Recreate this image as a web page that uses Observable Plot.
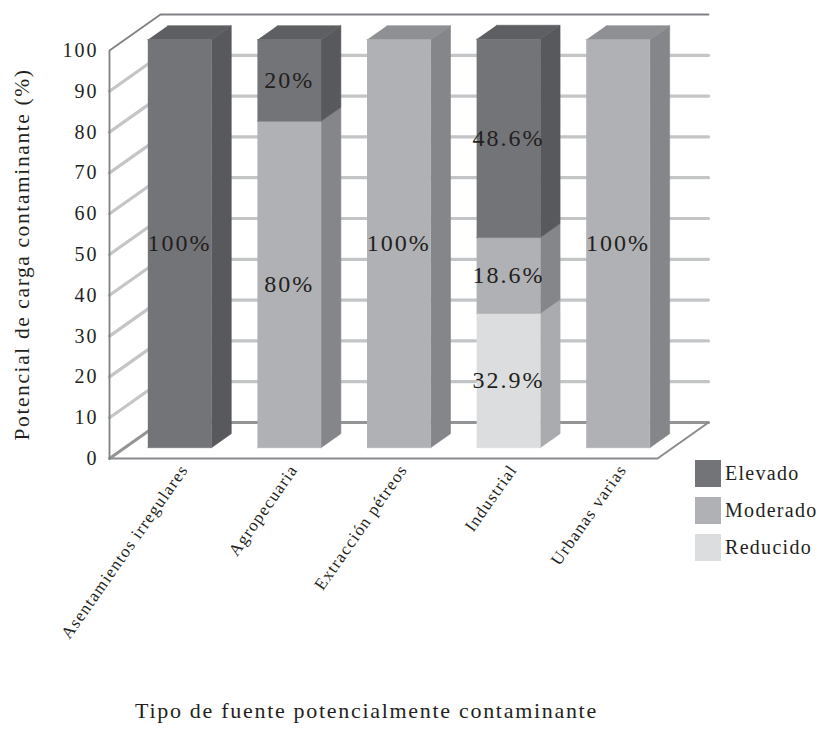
<!DOCTYPE html>
<html><head><meta charset="utf-8">
<script src="https://cdn.jsdelivr.net/npm/d3@7"></script>
<script src="https://cdn.jsdelivr.net/npm/@observablehq/plot@0.6"></script>
<style>
body{margin:0;background:#fff;font-family:"Liberation Serif",serif;color:#231f20;}
#wrap{position:relative;width:822px;height:730px;}
#wrap svg text{font-family:"Liberation Serif",serif;}
#legend{position:absolute;left:695px;top:460px;font-size:20px;letter-spacing:1.3px;}
#legend .item{display:flex;align-items:center;height:27px;margin-bottom:10px;}
#legend .sw{width:26px;height:27px;margin-right:4px;}
</style></head><body><div id="wrap"></div>
<script>
// ---- data ----
const categories = ["Asentamientos irregulares","Agropecuaria","Extracción pétreos","Industrial","Urbanas varias"];
const stackOrder = ["Reducido","Moderado","Elevado"]; // bottom to top
const reducido = [0, 0, 0, 32.9, 0];
const moderado = [0, 80, 100, 18.6, 100];
const elevado  = [100, 20, 0, 48.6, 0];
const yTicks = [0,10,20,30,40,50,60,70,80,90,100];
const yTitle = "Potencial de carga contaminante (%)";
const xTitle = "Tipo de fuente potencialmente contaminante";

// ---- styles ----
const faceColors = {
  Elevado:  {front:"#737478", side:"#58595c", top:"#5e5f62"},
  Moderado: {front:"#b0b1b4", side:"#858689", top:"#8f9093"},
  Reducido: {front:"#dcdddf", side:"#aaabae", top:"#c4c5c7"}
};
const W = 822, H = 730, ML = 109, MR = 165, MT = 50, MB = 272;
const kx = (W - ML - MR) / categories.length;   // px per category slot
const ky = (H - MT - MB) / 100;                 // px per percent
const DEPTH_DX = 51, DEPTH_DY = 36;             // oblique depth in px
const BAR_W = 0.58, D_FRONT = 0.3, D_BACK = 0.69;
const P = (xu, yu, d) => ({x: xu + d * DEPTH_DX / kx, y: yu + d * DEPTH_DY / ky});

const series = {Reducido: reducido, Moderado: moderado, Elevado: elevado};

// stacked segments
const segments = [];
categories.forEach((cat, i) => {
  let y0 = 0;
  const segs = [];
  stackOrder.forEach(level => {
    const v = series[level][i];
    if (v > 0) { segs.push({i, cat, level, v, y0, y1: y0 + v}); y0 += v; }
  });
  segs.forEach((s, k) => { s.top = k === segs.length - 1; segments.push(s); });
});

const faceRows = {};
function addFace(kind, level, id, pts) {
  const key = kind + "|" + level;
  (faceRows[key] = faceRows[key] || []).push(...pts.map(p => ({id, x: p.x, y: p.y})));
}
segments.forEach((s, n) => {
  const c = s.i + 0.5, l = c - BAR_W / 2, r = c + BAR_W / 2;
  addFace("front", s.level, n, [P(l, s.y0, D_FRONT), P(r, s.y0, D_FRONT), P(r, s.y1, D_FRONT), P(l, s.y1, D_FRONT)]);
  addFace("side", s.level, n, [P(r, s.y0, D_FRONT), P(r, s.y0, D_BACK), P(r, s.y1, D_BACK), P(r, s.y1, D_FRONT)]);
  if (s.top) addFace("top", s.level, n, [P(l, s.y1, D_FRONT), P(r, s.y1, D_FRONT), P(r, s.y1, D_BACK), P(l, s.y1, D_BACK)]);
});

const N = categories.length;
const gridRows = yTicks.filter(v => v > 0 && v < 100).flatMap(v =>
  [P(0, v, 0), P(0, v, 1), P(N, v, 1)].map(p => ({id: v, ...p})));
const floorBack = [P(0, 0, 0), P(0, 0, 1), P(N, 0, 1)];
const floorFront = [P(0, 0, 0), P(N, 0, 0), P(N, 0, 1)];
const frame = [P(0, 0, 0), P(0, 100, 0), P(0, 100, 1), P(N, 100, 1)];

const labelRows = segments.map(s => ({...P(s.i + 0.5, (s.y0 + s.y1) / 2, D_FRONT), text: s.v + "%"}));
const catRows = categories.map((cat, i) => ({...P(i + 0.5, 0, 0), text: cat}));

const faceMarks = [];
["side", "top", "front"].forEach(kind => stackOrder.forEach(level => {
  const rows = faceRows[kind + "|" + level];
  if (rows) {
    const col = faceColors[level][kind];
    faceMarks.push(Plot.line(rows, {x: "x", y: "y", z: "id", fill: col, stroke: col, strokeWidth: 0.6}));
  }
}));

const chart = Plot.plot({
  width: W, height: H,
  marginLeft: ML, marginRight: MR, marginTop: MT, marginBottom: MB,
  style: {fontFamily: "Liberation Serif", color: "#231f20", background: "white"},
  x: {domain: [0, N], axis: null},
  y: {domain: [0, 100]},
  marks: [
    Plot.line(gridRows, {x: "x", y: "y", z: "id", stroke: "#c4c5c7", strokeWidth: 3.2}),
    Plot.line(floorBack, {x: "x", y: "y", stroke: "#939496", strokeWidth: 3}),
    Plot.line(floorFront, {x: "x", y: "y", stroke: "#8a8b8e", strokeWidth: 2}),
    Plot.line(frame, {x: "x", y: "y", stroke: "#808184", strokeWidth: 1.8}),
    ...faceMarks,
    Plot.axisY(yTicks, {tickSize: 0, tickPadding: 11, fontSize: 20, label: null, tickFormat: d => String(d)}),
    Plot.text(labelRows, {x: "x", y: "y", text: "text", fontSize: 24, fill: "#231f20"}),
    Plot.text(catRows, {x: "x", y: "y", text: "text", fontSize: 17, rotate: -55, textAnchor: "end", dx: 20, dy: 8, fill: "#231f20"}),
    Plot.text([yTitle], {frameAnchor: "left", textAnchor: "middle", rotate: -90, dx: -87, fontSize: 21.5, fill: "#231f20"}),
    Plot.text([xTitle], {frameAnchor: "bottom", textAnchor: "middle", dx: -17, dy: 259, fontSize: 22, fill: "#231f20"})
  ]
});
const wrap = document.getElementById("wrap");
wrap.appendChild(chart);

// letter spacing by text size (the reference typeface is wider than Times)
const spacing = {"20": 2, "24": 2, "17": 1.2, "21.5": 1.6, "22": 1.7};
d3.select(chart).selectAll("g[font-size]").each(function() {
  const fs = this.getAttribute("font-size");
  if (spacing[fs] != null) d3.select(this).selectAll("text").attr("letter-spacing", spacing[fs] + "px");
});
d3.select(chart).selectAll("text").attr("font-family", "Liberation Serif");

// legend
const legendOrder = stackOrder.slice().reverse();
const legend = d3.select(wrap).append("div").attr("id", "legend");
legendOrder.forEach(level => {
  const it = legend.append("div").attr("class", "item");
  it.append("div").attr("class", "sw").style("background", faceColors[level].front);
  it.append("span").text(level);
});
</script></body></html>
